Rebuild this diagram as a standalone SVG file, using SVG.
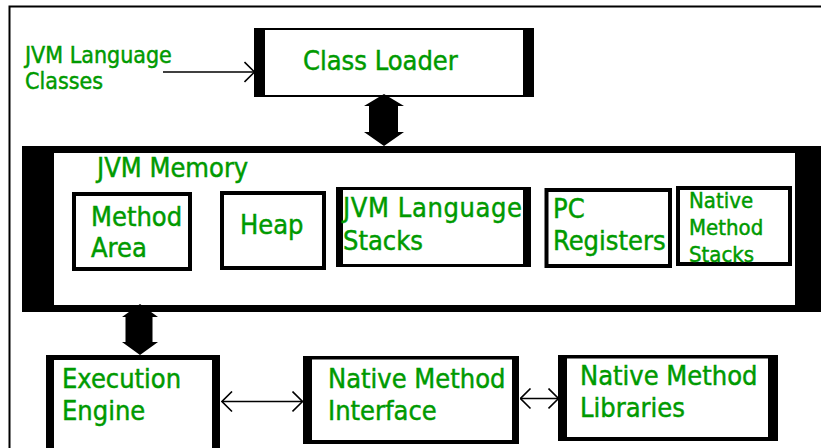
<svg xmlns="http://www.w3.org/2000/svg" width="821" height="448" viewBox="0 0 821 448">
  <style>
    .lbl { font-family: "DejaVu Sans Condensed", "DejaVu Sans", Verdana, sans-serif; font-stretch: condensed; font-size: 27px; fill: #009a00; stroke: #009a00; stroke-width: 0.45; }
    .sm { font-size: 23px; }
    .xs { font-size: 22px; }
    .blk { fill: #000; }
    .wht { fill: #fff; }
    .thin { fill: none; stroke: #000; stroke-width: 1.6; }
    .box { fill: #fff; stroke: #000; stroke-width: 4; }
  </style>
  <defs>
    <marker id="chev" viewBox="0 0 12 22" refX="11" refY="11" markerWidth="12" markerHeight="22" markerUnits="userSpaceOnUse" orient="auto-start-reverse">
      <path d="M1 1 L11 11 L1 21" fill="none" stroke="#000" stroke-width="1.6"/>
    </marker>
  </defs>

  <rect width="821" height="448" fill="#fff"/>
  <!-- outer frame -->
  <rect x="9.5" y="6.5" width="830" height="460" fill="none" stroke="#000" stroke-width="2"/>

  <!-- input label -->
  <g id="input-label">
    <text class="lbl sm" x="25" y="63">JVM Language</text>
    <text class="lbl sm" x="25" y="89">Classes</text>
  </g>

  <g id="class-loader">
    <rect class="blk" x="254" y="28" width="280" height="69"/>
    <rect class="wht" x="265" y="30" width="258" height="65"/>
    <text class="lbl" x="303" y="70">Class Loader</text>
  </g>

  <g id="jvm-memory">
    <rect class="blk" x="22" y="146" width="810" height="166"/>
    <rect class="wht" x="54" y="153" width="741" height="152"/>
    <text class="lbl" x="97" y="177">JVM Memory</text>
  </g>

  <g id="method-area">
    <rect class="box" x="74" y="194" width="116" height="75"/>
    <text class="lbl" x="91" y="226">Method</text>
    <text class="lbl" x="91" y="257">Area</text>
  </g>

  <g id="heap">
    <rect class="box" x="222" y="193" width="102" height="75"/>
    <text class="lbl" x="240" y="234">Heap</text>
  </g>

  <g id="jvm-language-stacks">
    <rect class="blk" x="336" y="187" width="195" height="80"/>
    <rect class="wht" x="343" y="190" width="180" height="74"/>
    <text class="lbl" x="343" y="217" textLength="179">JVM Language</text>
    <text class="lbl" x="343" y="250">Stacks</text>
  </g>

  <g id="pc-registers">
    <rect class="box" x="546.5" y="190" width="123.5" height="76"/>
    <text class="lbl" x="553" y="218">PC</text>
    <text class="lbl" x="553" y="250">Registers</text>
  </g>

  <g id="native-method-stacks">
    <rect class="box" x="678" y="188" width="112" height="76"/>
    <text class="lbl xs" x="689" y="208">Native</text>
    <text class="lbl xs" x="689" y="235">Method</text>
    <text class="lbl xs" x="689" y="262">Stacks</text>
  </g>

  <g id="execution-engine">
    <rect class="blk" x="46" y="355" width="174" height="100"/>
    <rect class="wht" x="54" y="360" width="158" height="100"/>
    <text class="lbl" x="62" y="388">Execution</text>
    <text class="lbl" x="62" y="420">Engine</text>
  </g>

  <g id="native-method-interface">
    <rect class="blk" x="303" y="356" width="216" height="88"/>
    <rect class="wht" x="312" y="359.5" width="200" height="80.5"/>
    <text class="lbl" x="328" y="388">Native Method</text>
    <text class="lbl" x="328" y="420">Interface</text>
  </g>

  <g id="native-method-libraries">
    <rect class="blk" x="558" y="355" width="220" height="86"/>
    <rect class="wht" x="567" y="358.5" width="201" height="78.5"/>
    <text class="lbl" x="580" y="385">Native Method</text>
    <text class="lbl" x="580" y="417">Libraries</text>
  </g>

  <g id="connectors">
    <!-- classes into loader -->
    <line class="thin" x1="163" y1="72" x2="254.5" y2="72" marker-end="url(#chev)"/>
    <!-- loader <-> memory -->
    <polygon class="blk" points="384,94 404,106 398,106 398,132 404,132 384,146 364,132 369,132 369,106 364,106"/>
    <!-- memory <-> execution engine -->
    <polygon class="blk" points="140,304 158,317 152.5,317 152.5,342 158,342 140,355 122,342 125.5,342 125.5,317 122,317"/>
    <!-- engine <-> interface -->
    <line class="thin" x1="222" y1="401.5" x2="302.5" y2="401.5" marker-start="url(#chev)" marker-end="url(#chev)"/>
    <!-- interface <-> libraries -->
    <line class="thin" x1="520.5" y1="398.5" x2="558.5" y2="398.5" marker-start="url(#chev)" marker-end="url(#chev)"/>
  </g>
</svg>
